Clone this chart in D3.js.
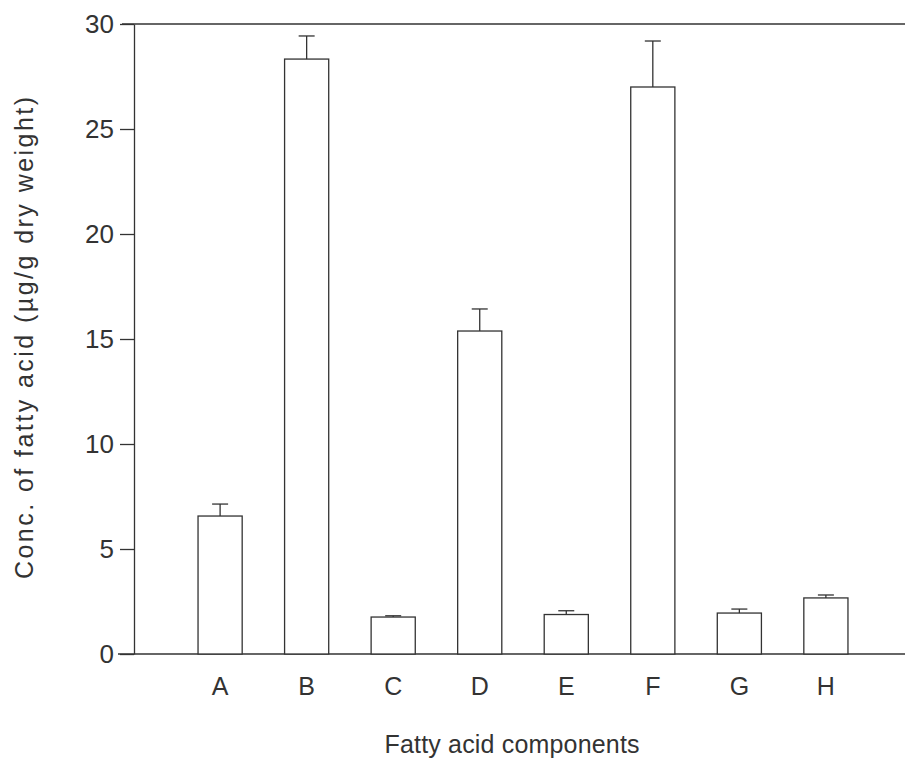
<!DOCTYPE html>
<html><head><meta charset="utf-8">
<script src="https://cdn.jsdelivr.net/npm/d3@7"></script>
<style>body{margin:0;background:#fff}svg{display:block}</style>
</head><body>
<script>
const categories = ["A","B","C","D","E","F","G","H"];
const means = [6.57, 28.33, 1.76, 15.38, 1.88, 27.0, 1.95, 2.67];
const errors = [0.57, 1.10, 0.06, 1.05, 0.18, 2.19, 0.19, 0.14];
const yTicks = [0, 5, 10, 15, 20, 25, 30];
const xTitle = "Fatty acid components";
const yTitle = "Conc. of fatty acid (µg/g dry weight)";

(function () {
const W = 905, H = 760;
const svg = d3.select("body").append("svg").attr("width", W).attr("height", H);
const mLeft = 134, mTop = 24, mBottom = 654, mRight = 905;
const font = "Liberation Sans, Arial, sans-serif";
const ink = "#333";
const txt = "#333";

const x = d3.scaleBand().domain(categories).range([mLeft, 912]).paddingInner(0.49).paddingOuter(0.74);
const y = d3.scaleLinear().domain([0, 30]).range([mBottom, mTop]);

svg.append("line").attr("x1", 122).attr("x2", mRight).attr("y1", y(30)).attr("y2", y(30))
  .attr("stroke", ink).attr("stroke-width", 1.3);
svg.append("line").attr("x1", 118).attr("x2", mRight).attr("y1", y(0)).attr("y2", y(0))
  .attr("stroke", ink).attr("stroke-width", 1.3);

const yAxis = d3.axisLeft(y).tickValues(yTicks).tickSize(14).tickPadding(6).tickSizeOuter(0);
const gy = svg.append("g").attr("transform", `translate(${mLeft},0)`).call(yAxis);
gy.select(".domain").attr("stroke", ink).attr("stroke-width", 1.3);
gy.selectAll(".tick line").attr("stroke", ink).attr("stroke-width", 1.3);
gy.selectAll(".tick text").attr("font-family", font).attr("font-size", 26).attr("fill", txt);

const xAxis = d3.axisBottom(x).tickSize(0).tickPadding(23);
const gx = svg.append("g").attr("transform", `translate(0,${mBottom})`).call(xAxis);
gx.select(".domain").remove();
gx.selectAll(".tick text").attr("font-family", font).attr("font-size", 25).attr("fill", txt);

svg.selectAll("rect.bar").data(categories).join("rect").attr("class", "bar")
  .attr("x", d => x(d)).attr("width", x.bandwidth())
  .attr("y", (d, i) => y(means[i])).attr("height", (d, i) => y(0) - y(means[i]))
  .attr("fill", "#fff").attr("stroke", ink).attr("stroke-width", 1.3);

const eb = svg.selectAll("g.err").data(categories).join("g").attr("class", "err");
eb.append("line").attr("x1", d => x(d) + x.bandwidth() / 2).attr("x2", d => x(d) + x.bandwidth() / 2)
  .attr("y1", (d, i) => y(means[i])).attr("y2", (d, i) => y(means[i] + errors[i]))
  .attr("stroke", ink).attr("stroke-width", 1.3);
eb.append("line").attr("x1", d => x(d) + x.bandwidth() / 2 - 8).attr("x2", d => x(d) + x.bandwidth() / 2 + 8)
  .attr("y1", (d, i) => y(means[i] + errors[i])).attr("y2", (d, i) => y(means[i] + errors[i]))
  .attr("stroke", ink).attr("stroke-width", 1.3);

svg.append("text").attr("x", 512).attr("y", 753).attr("text-anchor", "middle")
  .attr("font-family", font).attr("font-size", 25).attr("fill", txt)
  .attr("textLength", 255).attr("lengthAdjust", "spacing").text(xTitle);
svg.append("text").attr("transform", "translate(33,338) rotate(-90)").attr("text-anchor", "middle")
  .attr("font-family", font).attr("font-size", 25).attr("fill", txt)
  .attr("textLength", 482).attr("lengthAdjust", "spacing").text(yTitle);
})();
</script>
</body></html>
